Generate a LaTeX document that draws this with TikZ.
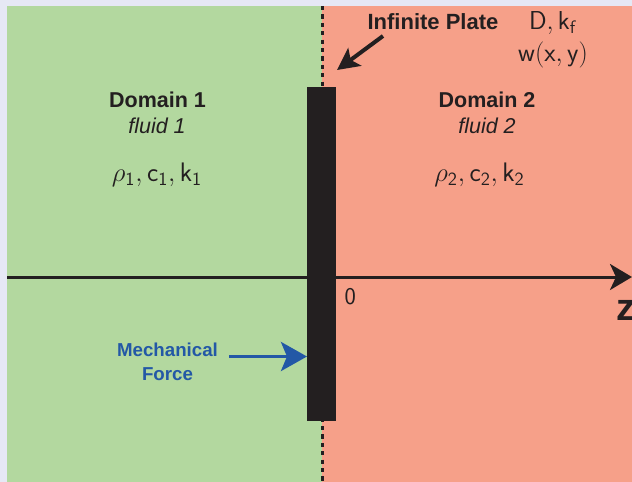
\RequirePackage{fix-cm}
\documentclass[tikz,border=0pt]{standalone}
\usepackage{graphicx}
\usepackage{fontspec}
\newfontfamily\arial{Liberation Sans}
\usetikzlibrary{arrows.meta}
\definecolor{bgl}{HTML}{E6E8F5}
\definecolor{gfill}{HTML}{B3D89F}
\definecolor{rfill}{HTML}{F6A089}
\definecolor{ink}{HTML}{231F20}
\definecolor{fblue}{HTML}{2358A6}
\tikzset{
  lbl/.style={inner sep=0pt, anchor=base, text=ink},
  dom/.style={lbl, font=\arial\fontsize{21.5}{24}\selectfont},
  mth/.style={lbl, font=\fontsize{17.28}{20}\selectfont},
}
\begin{document}
\begin{tikzpicture}[x=1pt,y=-1pt]
\useasboundingbox (0,0) rectangle (632,482);
\fill[bgl] (0,0) rectangle (632,482);
\fill[gfill] (7,6) rectangle (322,482);
\fill[rfill] (322,6) rectangle (632,482);
% dotted centre line
\coordinate (dtop) at (322,6);
\coordinate (dbot) at (322,482);
\draw[ink, line width=3pt, dash pattern=on 4.2pt off 4.2pt] (dtop) -- (dbot);
% axis
\coordinate (axl) at (7,277);
\coordinate (axr) at (632,277);
\draw[ink, line width=3pt, -{Stealth[length=22pt,width=26pt,inset=6pt]}] (axl) -- (axr);
% plate
\node[draw=none, fill=ink, minimum width=29pt, minimum height=334pt, inner sep=0pt, anchor=north west] (plate) at (307,87) {};
% labels
\node[lbl, font=\arial\bfseries\fontsize{22}{26}\selectfont] (ip) at (433,29.3) {Infinite Plate};
\coordinate (ipa) at (383,36);
\coordinate (ipb) at (337,70);
\draw[ink, line width=4pt, -{Stealth[length=22pt,width=22pt,inset=5pt]}] (ipa) -- (ipb);
\node[mth] (dk) at (552.5,29.3) {\scalebox{1.5}{$\mathsf{D}, \mathsf{k}_\mathsf{f}$}};
\node[mth] (wxy) at (553,61) {\scalebox{1.52}{$\mathsf{w}(\mathsf{x}, \mathsf{y})$}};
\node[dom, font=\arial\bfseries\fontsize{21.5}{24}\selectfont] (d1) at (157.5,107.3) {Domain 1};
\node[dom, font=\arial\itshape\fontsize{21.5}{24}\selectfont] (f1) at (157,133.3) {fluid 1};
\node[mth] (p1) at (157,181.7) {\scalebox{1.55}{$\rho_\mathsf{1}, \mathsf{c}_\mathsf{1}, \mathsf{k}_\mathsf{1}$}};
\node[dom, font=\arial\bfseries\fontsize{21.5}{24}\selectfont] (d2) at (487,107.3) {Domain 2};
\node[dom, font=\arial\itshape\fontsize{21.5}{24}\selectfont] (f2) at (487,133.3) {fluid 2};
\node[mth] (p2) at (479.5,181.7) {\scalebox{1.55}{$\rho_\mathsf{2}, \mathsf{c}_\mathsf{2}, \mathsf{k}_\mathsf{2}$}};
\node[lbl, anchor=base west, font=\sffamily\fontsize{24}{28}\selectfont] (zero) at (344.5,304.3) {0};
\node[lbl, anchor=base west, font=\arial\bfseries\fontsize{38}{40}\selectfont] (zz) at (616,320) {z};
% mechanical force
\node[lbl, text=fblue, font=\arial\bfseries\fontsize{18.7}{22}\selectfont] (mf1) at (167.5,356.7) {Mechanical};
\node[lbl, text=fblue, font=\arial\bfseries\fontsize{18.7}{22}\selectfont] (mf2) at (167.5,380) {Force};
\coordinate (mfa) at (229,356.5);
\draw[fblue, line width=3.5pt, -{Stealth[length=26pt,width=29pt,inset=6pt]}] (mfa) -- (plate.west |- mfa);
\end{tikzpicture}
\end{document}
